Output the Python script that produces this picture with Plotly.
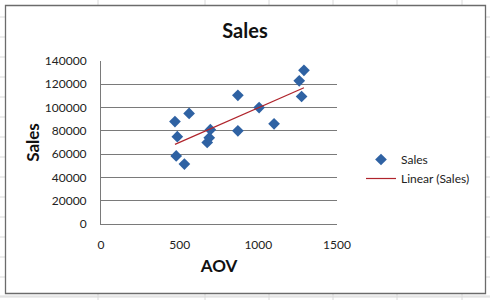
import numpy as np
import plotly.graph_objects as go

aov = [470, 485, 478, 530, 560, 675, 688, 695, 870, 870, 1005, 1100, 1260, 1275, 1290]
sales = [88000, 75000, 58500, 51500, 95000, 70000, 74000, 81000, 110500, 80000, 100000, 86000, 123000, 109500, 132000]
y_ticks = [0, 20000, 40000, 60000, 80000, 100000, 120000, 140000]
x_ticks = [0, 500, 1000, 1500]

W, H = 490, 300
L, R, T, B = 101, 153, 61, 76
pw, ph = W - L - R, H - T - B

def px(x):
    return (x - L) / pw

def py(y):
    return (H - B - y) / ph

slope, intercept = np.polyfit(aov, sales, 1)
tx = [min(aov), max(aov)]
ty = [slope * v + intercept for v in tx]

fig = go.Figure()
fig.add_trace(go.Scatter(x=aov, y=sales, mode="markers", name="Sales",
                         marker=dict(symbol="diamond", size=9, color="#2f62a3")))
fig.add_trace(go.Scatter(x=tx, y=ty, mode="lines", name="Linear (Sales)",
                         line=dict(color="#b0242c", width=1.2)))

shapes = []
# spreadsheet background grid
for cx in [98, 205, 269, 333, 397, 462]:
    shapes.append(dict(type="line", xref="paper", yref="paper", x0=px(cx), x1=px(cx),
                       y0=py(0), y1=py(H), line=dict(color="#dadada", width=1), layer="below"))
for ry in range(17, 300, 20):
    shapes.append(dict(type="line", xref="paper", yref="paper", x0=px(0), x1=px(W),
                       y0=py(ry), y1=py(ry), line=dict(color="#dadada", width=1), layer="below"))
shapes.append(dict(type="line", xref="paper", yref="paper", x0=px(0), x1=px(W),
                   y0=py(296), y1=py(296), line=dict(color="#dadada", width=1), layer="below"))
# chart area
shapes.append(dict(type="rect", xref="paper", yref="paper", x0=px(5.5), x1=px(485.5),
                   y0=py(5.5), y1=py(293.5), fillcolor="white",
                   line=dict(color="#6b6b6b", width=1.3), layer="below"))

fig.update_layout(
    width=W, height=H,
    margin=dict(l=L, r=R, t=T, b=B),
    paper_bgcolor="white", plot_bgcolor="white",
    font=dict(family="Lato", size=12, color="#222222"),
    title=dict(text="<b>Sales</b>", xref="container", x=245 / W, xanchor="center",
               yref="container", y=1 - 31 / H, yanchor="middle",
               font=dict(family="Lato", size=20, color="#111111")),
    shapes=shapes,
    showlegend=True,
    legend=dict(x=px(361), xanchor="left", y=py(145), yanchor="top",
                bgcolor="rgba(0,0,0,0)", font=dict(size=12, color="#222222"),
                itemwidth=30),
    xaxis=dict(range=[0, 1500], tickvals=x_ticks, ticktext=[str(v) for v in x_ticks],
               showgrid=False, zeroline=False,
               showline=True, linecolor="#7a7a7a", linewidth=1, ticks="",
               ticklabelstandoff=10,
               title=dict(text="<b>AOV</b>", font=dict(size=17, color="#111111"), standoff=8)),
    yaxis=dict(range=[0, 140000], tickvals=y_ticks, ticktext=[str(v) for v in y_ticks],
               showgrid=True, gridcolor="#7a7a7a",
               gridwidth=1, zeroline=False, showline=True, linecolor="#7a7a7a", linewidth=1,
               ticks="", ticklabelstandoff=11,
               title=dict(text="<b>Sales</b>", font=dict(size=17, color="#111111"), standoff=0)),
)

fig.write_html("out.html")
